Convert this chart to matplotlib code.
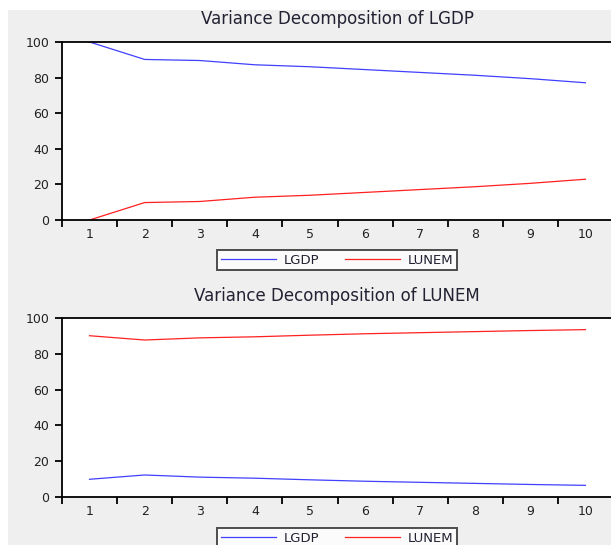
import numpy as np
import matplotlib.pyplot as plt
from matplotlib.patches import Rectangle

plt.rcParams['font.family'] = ['DejaVu Sans']

periods = np.arange(1, 11)

# variance decomposition of LGDP
lgdp_own = [100.0, 90.2, 89.6, 87.2, 86.1, 84.5, 82.9, 81.3, 79.4, 77.1]
lgdp_unem = [0.0, 9.8, 10.4, 12.8, 13.9, 15.5, 17.1, 18.7, 20.6, 22.9]

# variance decomposition of LUNEM
lunem_gdp = [9.9, 12.3, 11.1, 10.5, 9.6, 8.8, 8.2, 7.6, 7.0, 6.5]
lunem_own = [90.1, 87.7, 88.9, 89.5, 90.4, 91.2, 91.8, 92.4, 93.0, 93.5]

titles = ['Variance Decomposition of LGDP', 'Variance Decomposition of LUNEM']
series = [(lgdp_own, lgdp_unem), (lunem_gdp, lunem_own)]
legend_labels = ['LGDP', 'LUNEM']

W, H = 611, 545
fig = plt.figure(figsize=(W / 100, H / 100), dpi=100)
fig.patch.set_facecolor('white')
fig.patches.append(Rectangle((8 / W, 0), 1, 1 - 10 / H, transform=fig.transFigure,
                             facecolor='#efefef', edgecolor='none', zorder=-10))

# (top px, bottom px, title px, legend centre px)
panels = [(42, 220, 19, 260), (318, 497, 296, 538)]
left = 62

for (top, bot, ty, ly), title, (s1, s2) in zip(panels, titles, series):
    ax = fig.add_axes([left / W, 1 - bot / H, (W + 2 - left) / W, (bot - top) / H])
    ax.set_facecolor('white')
    l1, = ax.plot(periods, s1, color='#4040ff', lw=0.9)
    l2, = ax.plot(periods, s2, color='#ff2020', lw=0.9)
    ax.set_xlim(0.5, 10.5)
    ax.set_ylim(0, 100)
    ax.set_yticks(range(0, 101, 20))
    ax.set_xticks(periods)
    ax.set_xticks(np.arange(0.5, 10.6, 1), minor=True)
    ax.tick_params(axis='x', which='major', length=0, pad=6, labelsize=9, labelcolor='#222222')
    ax.tick_params(axis='x', which='minor', length=5, width=1.3, direction='out')
    ax.tick_params(axis='y', length=5, width=1.3, direction='out', labelsize=9, pad=4,
                   labelcolor='#222222')
    for sp in ax.spines.values():
        sp.set_linewidth(1.3)
    ax.spines['right'].set_visible(False)
    fig.text(337 / W, 1 - ty / H, title, ha='center', va='center', fontsize=12, color='#222233')
    leg = fig.legend([l1, l2], legend_labels, loc='center', bbox_to_anchor=(337 / W, 1 - ly / H),
                     ncol=2, handlelength=4.2, columnspacing=1.9, fontsize=9.5, frameon=True,
                     fancybox=False, borderpad=0.25, handletextpad=0.6, labelcolor='#222233')
    leg.get_frame().set_edgecolor('#222222')
    leg.get_frame().set_linewidth(1.4)

fig.savefig('out.png', dpi=100)
